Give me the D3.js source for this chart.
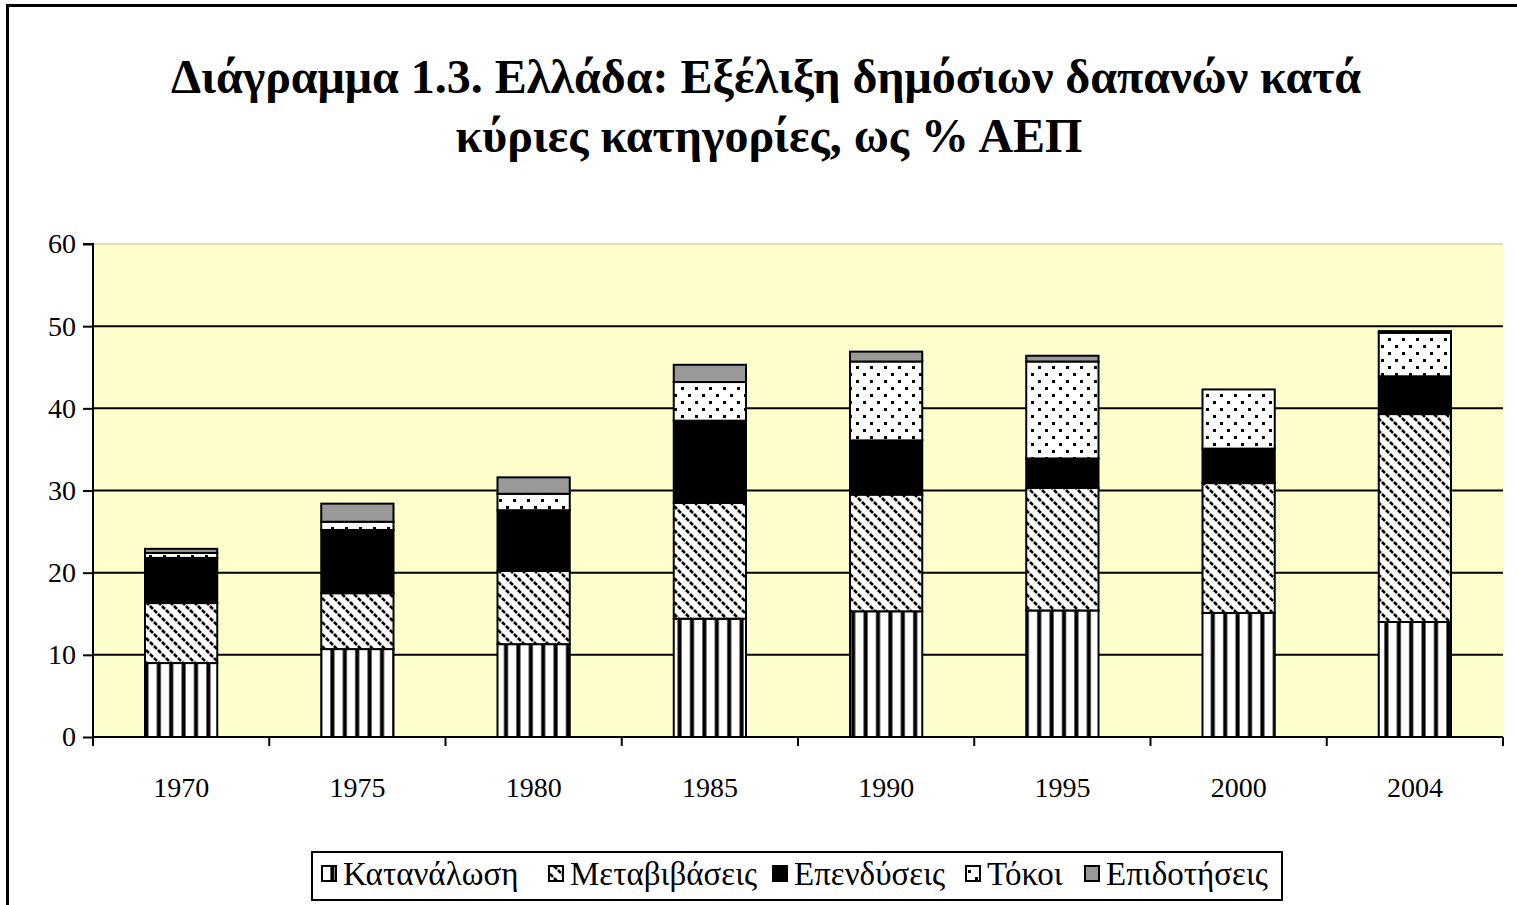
<!DOCTYPE html>
<html>
<head>
<meta charset="utf-8">
<script src="https://cdn.jsdelivr.net/npm/d3@7"></script>
<style>
  body { margin: 0; background: #fff; }
  svg { display: block; }
</style>
</head>
<body>
<svg id="chart" width="1517" height="905" font-family="Liberation Serif, Times New Roman, serif"></svg>
<script>
// data (% of GDP)
const years = ["1970", "1975", "1980", "1985", "1990", "1995", "2000", "2004"];
const series = ["Κατανάλωση", "Μεταβιβάσεις", "Επενδύσεις", "Τόκοι", "Επιδοτήσεις"];
const katanalosi   = [9.0, 10.7, 11.3, 14.4, 15.3, 15.4, 15.1, 14.0];
const metavivaseis = [7.3, 6.8, 8.9, 14.1, 14.2, 14.9, 15.8, 25.3];
const ependyseis   = [5.5, 7.7, 7.4, 10.0, 6.6, 3.6, 4.2, 4.6];
const tokoi        = [0.6, 1.0, 2.0, 4.7, 9.6, 11.8, 7.2, 5.3];
const epidotiseis  = [0.5, 2.2, 2.0, 2.1, 1.2, 0.7, 0.0, 0.2];
const yTicks = [0, 10, 20, 30, 40, 50, 60];

const rows = years.map((y, i) => ({
  year: y,
  "Κατανάλωση": katanalosi[i],
  "Μεταβιβάσεις": metavivaseis[i],
  "Επενδύσεις": ependyseis[i],
  "Τόκοι": tokoi[i],
  "Επιδοτήσεις": epidotiseis[i]
}));

const svg = d3.select("#chart");
const FONT = "Liberation Serif, Times New Roman, serif";

// patterns imitating the old spreadsheet fills
const defs = svg.append("defs");
const pStripe = defs.append("pattern").attr("id", "p0").attr("patternUnits", "userSpaceOnUse")
  .attr("width", 12.4).attr("height", 12);
pStripe.append("rect").attr("width", 12.4).attr("height", 12).attr("fill", "#fff");
pStripe.append("rect").attr("x", 8).attr("width", 4).attr("height", 12).attr("fill", "#000");

// dashed "\" diagonals
const pDiag = defs.append("pattern").attr("id", "p1").attr("patternUnits", "userSpaceOnUse")
  .attr("width", 12).attr("height", 12);
pDiag.append("rect").attr("width", 12).attr("height", 12).attr("fill", "#fff");
pDiag.append("path").attr("d", "M-6,-6L18,18M-6,6L6,18M6,-6L18,6")
  .attr("stroke", "#000").attr("stroke-width", 2.6).attr("stroke-dasharray", "4.24 1.41");

const pDots = defs.append("pattern").attr("id", "p3").attr("patternUnits", "userSpaceOnUse")
  .attr("width", 14).attr("height", 14);
pDots.append("rect").attr("width", 14).attr("height", 14).attr("fill", "#fff");
pDots.append("rect").attr("x", 2).attr("y", 2).attr("width", 3).attr("height", 3).attr("fill", "#000");
pDots.append("rect").attr("x", 9).attr("y", 9).attr("width", 3).attr("height", 3).attr("fill", "#000");

const fills = ["url(#p0)", "url(#p1)", "#000", "url(#p3)", "#999999"];

// outer frame (only top and left show in the picture)
svg.append("path").attr("d", "M7.5,1000 V5.5 H1600")
  .attr("fill", "none").attr("stroke", "#000").attr("stroke-width", 3);

// title
const title = svg.append("text").attr("text-anchor", "middle").attr("font-family", FONT)
  .attr("font-weight", "bold").attr("font-size", 48);
title.append("tspan").attr("x", 766).attr("y", 93).text("Διάγραμμα 1.3. Ελλάδα: Εξέλιξη δημόσιων δαπανών κατά");
title.append("tspan").attr("x", 769).attr("y", 152).text("κύριες κατηγορίες, ως % ΑΕΠ");

const plotL = 93, plotR = 1503, plotT = 244, plotB = 737;

const x = d3.scaleBand().domain(years).range([plotL, plotR]).paddingInner(0.59).paddingOuter(0.295);
const y = d3.scaleLinear().domain([0, 60]).range([plotB, plotT]);

// plot background
svg.append("rect").attr("x", plotL).attr("y", plotT).attr("width", plotR - plotL).attr("height", plotB - plotT)
  .attr("fill", "#FFFFCC");

// gridlines
svg.append("g").selectAll("line").data(yTicks.filter(t => t > 0)).join("line")
  .attr("x1", plotL).attr("x2", plotR)
  .attr("y1", d => y(d)).attr("y2", d => y(d))
  .attr("stroke", d => d === 60 ? "#d8d4a0" : "#000")
  .attr("stroke-width", d => d === 60 ? 1.5 : 2);

// stacked bars
const stack = d3.stack().keys(series)(rows);
svg.append("g").selectAll("g").data(stack).join("g")
  .attr("fill", (d, i) => fills[i])
  .selectAll("rect").data(d => d.filter(s => s[1] - s[0] > 0)).join("rect")
  .attr("x", d => x(d.data.year))
  .attr("width", x.bandwidth())
  .attr("y", d => y(d[1]))
  .attr("height", d => y(d[0]) - y(d[1]))
  .attr("stroke", "#000").attr("stroke-width", 2);

// y axis
const yAxis = svg.append("g").attr("transform", `translate(${plotL},0)`)
  .call(d3.axisLeft(y).tickValues(yTicks).tickSize(10).tickPadding(7));
yAxis.attr("font-family", FONT).attr("font-size", 28);
yAxis.select(".domain").attr("stroke-width", 2).attr("d", `M-10,${plotT}H0V${plotB}`);
yAxis.selectAll(".tick line").attr("stroke-width", 2);
yAxis.selectAll("text").attr("fill", "#000");

// x axis with ticks between categories
const xAxis = svg.append("g").attr("transform", `translate(0,${plotB})`);
xAxis.append("line").attr("x1", plotL).attr("x2", plotR).attr("stroke", "#000").attr("stroke-width", 2);
const step = x.step();
xAxis.selectAll("line.tk").data(d3.range(years.length + 1)).join("line").attr("class", "tk")
  .attr("x1", i => plotL + i * step).attr("x2", i => plotL + i * step)
  .attr("y1", 0).attr("y2", 9).attr("stroke", "#000").attr("stroke-width", 2);
xAxis.selectAll("text").data(years).join("text")
  .attr("x", d => x(d) + x.bandwidth() / 2).attr("y", 60)
  .attr("text-anchor", "middle").attr("font-family", FONT).attr("font-size", 28).text(d => d);

// legend
const lg = svg.append("g");
lg.append("rect").attr("x", 312).attr("y", 852).attr("width", 970).attr("height", 48)
  .attr("fill", "#fff").attr("stroke", "#000").attr("stroke-width", 2);
const legendX = [322, 549, 773, 966, 1085];
series.forEach((s, i) => {
  lg.append("rect").attr("x", legendX[i]).attr("y", 866).attr("width", 14).attr("height", 15)
    .attr("fill", fills[i]).attr("stroke", "#000").attr("stroke-width", 2);
  lg.append("text").attr("x", legendX[i] + 21).attr("y", 885)
    .attr("font-family", FONT).attr("font-size", 33).text(s);
});
</script>
</body>
</html>
